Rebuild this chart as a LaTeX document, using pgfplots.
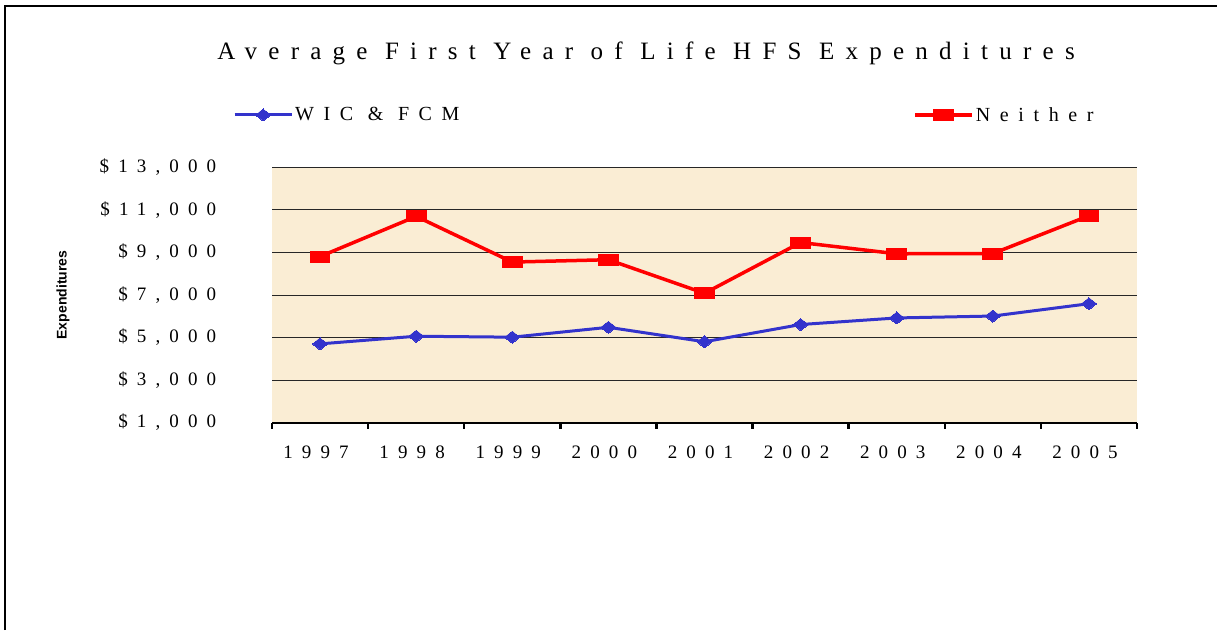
\documentclass[border=0pt]{standalone}
\usepackage{pgfplots}
\pgfplotsset{compat=1.18}
\usepackage{fontspec}
\setmainfont{Liberation Serif}
\newfontfamily\titlefont[LetterSpace=45]{Liberation Serif}
\newfontfamily\spfont[LetterSpace=48]{Liberation Serif}
\newfontfamily\labfont{Liberation Sans}
\definecolor{wicblue}{RGB}{51,51,204}
\definecolor{neitherred}{RGB}{255,0,0}
\definecolor{parch}{RGB}{250,237,212}
\begin{document}
\begin{tikzpicture}
\useasboundingbox (0pt,0pt) rectangle (1217pt,630pt);
\draw[line width=2pt,black] (4.5pt,0pt) -- (4.5pt,624pt) -- (1217pt,624pt);
\node[anchor=base,inner sep=0pt] at (646pt,570pt) {\titlefont\fontsize{25}{30}\selectfont Average First Year of Life HFS Expenditures};
\begin{axis}[
  at={(272pt,207.5pt)}, anchor=south west,
  scale only axis, width=865pt, height=255pt,
  xmin=-0.5, xmax=8.5, ymin=1000, ymax=13000,
  scaled ticks=false,
  axis background/.style={fill=parch},
  axis lines*=left,
  y axis line style={draw=none},
  x axis line style={line width=2pt,black},
  xtick={0,1,2,3,4,5,6,7,8},
  xticklabels={1997,1998,1999,2000,2001,2002,2003,2004,2005},
  major x tick style={draw=none},
  minor xtick={-0.5,0.5,1.5,2.5,3.5,4.5,5.5,6.5,7.5,8.5},
  minor x tick style={line width=2.5pt,black},
  minor tick length=6pt,
  tick align=outside,
  xticklabel style={font=\spfont\fontsize{19}{22}\selectfont, anchor=north, yshift=-16pt, xshift=-4pt},
  ytick={1000,3000,5000,7000,9000,11000,13000},
  yticklabels={{\$1,000},{\$3,000},{\$5,000},{\$7,000},{\$9,000},{\$11,000},{\$13,000}},
  major y tick style={draw=none},
  yticklabel style={font=\spfont\fontsize{19}{22}\selectfont, anchor=east, xshift=-48pt},
  ymajorgrids,
  major grid style={black!85, line width=1pt},
  ylabel={Expenditures},
  every axis y label/.style={at={(axis description cs:-0.2416,0.5)}, rotate=90, anchor=center, font=\labfont\bfseries\fontsize{14}{16}\selectfont},
  legend columns=2,
  legend style={at={(axis description cs:-0.0451,1.206)}, anchor=west, draw=none, fill=none,
    font=\spfont\fontsize{20}{24}\selectfont, inner sep=0pt,
    /tikz/every even column/.append style={column sep=452pt}},
  legend image code/.code={\draw[mark repeat=2,mark phase=2,#1] plot coordinates {(0pt,0pt)(28.5pt,0pt)(57pt,0pt)};},
]
\addplot[color=wicblue, line width=3pt, mark=diamond*, mark size=6pt, mark options={xscale=1.7, fill=wicblue, draw=wicblue, line width=0pt}]
  coordinates {(0,4700)(1,5060)(2,5015)(3,5480)(4,4800)(5,5610)(6,5920)(7,6010)(8,6590)};
\addlegendentry{WIC \& FCM}
\addplot[color=neitherred, line width=3.5pt, mark=square*, mark size=5.5pt, mark options={xscale=1.8, fill=neitherred, draw=neitherred, line width=0pt}]
  coordinates {(0,8810)(1,10700)(2,8550)(3,8660)(4,7080)(5,9470)(6,8940)(7,8950)(8,10730)};
\addlegendentry{Neither}
\end{axis}
\end{tikzpicture}
\end{document}
